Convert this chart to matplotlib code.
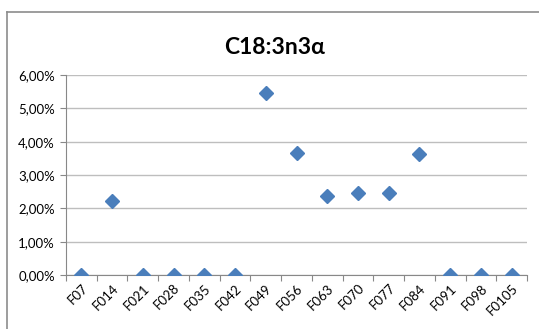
import matplotlib.pyplot as plt
from matplotlib.lines import Line2D
from matplotlib.ticker import FuncFormatter, FixedLocator

plt.rcParams["font.family"] = ["Lato", "DejaVu Sans"]

samples = ["F07", "F014", "F021", "F028", "F035", "F042", "F049", "F056",
           "F063", "F070", "F077", "F084", "F091", "F098", "F0105"]
values = [0.0, 2.21, 0.0, 0.0, 0.0, 0.0, 5.46, 3.67,
          2.37, 2.47, 2.47, 3.62, 0.0, 0.0, 0.0]

W, H = 539, 329
fig = plt.figure(figsize=(W / 100, H / 100), dpi=100)
ax = fig.add_axes([66 / W, 1 - 275 / H, (527 - 66) / W, 200 / H])

x = range(len(samples))
ax.plot(x, [v / 100 for v in values], linestyle="none", marker="D",
        markersize=7, color="#4a7ebb", markeredgecolor="#4a7ebb", zorder=3)

ax.set_xlim(-0.5, len(samples) - 0.5)
ax.set_ylim(0, 0.06)
ax.set_yticks([i / 100 for i in range(7)])
ax.yaxis.set_major_formatter(FuncFormatter(lambda v, p: f"{v * 100:.2f}%".replace(".", ",")))
ax.grid(axis="y", color="#bebebe", linewidth=1)
ax.set_axisbelow(True)

ax.xaxis.set_major_locator(FixedLocator([i - 0.5 for i in range(len(samples) + 1)]))
ax.set_xticklabels([])
ax.xaxis.set_minor_locator(FixedLocator(list(x)))
ax.set_xticklabels(samples, minor=True, rotation=45, ha="right", va="top",
                   rotation_mode="anchor", fontsize=9.5)
ax.tick_params(axis="x", which="minor", length=0, pad=5)
ax.tick_params(axis="x", which="major", length=4, color="#888888", direction="out")
ax.tick_params(axis="y", length=4, color="#888888", labelsize=9.5, pad=4)

for s in ["top", "right"]:
    ax.spines[s].set_visible(False)
for s in ["left", "bottom"]:
    ax.spines[s].set_color("#888888")

fig.text(275 / W, 1 - 48 / H, "C18:3n3α", ha="center", va="center",
         fontsize=16.5, fontweight="bold")

# chart border (cropped at right and bottom)
fig.add_artist(Line2D([7 / W, 7 / W], [0, 1 - 12 / H], color="#8c8c8c", linewidth=1.2))
fig.add_artist(Line2D([7 / W, 1], [1 - 12 / H, 1 - 12 / H], color="#8c8c8c", linewidth=1.2))

fig.savefig("out.png", dpi=100)
